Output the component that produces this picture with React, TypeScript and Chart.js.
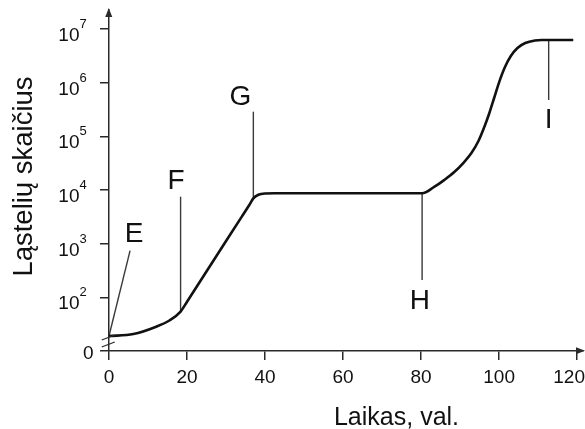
import React, { useEffect, useRef } from "react";
import { Chart, registerables } from "chart.js";

Chart.register(...registerables);

// ---- data ----
const hours = [0, 6.25, 12.1, 15.5, 18.35, 20, 27, 34, 36, 37, 38.3, 40, 42.5, 80.26, 83.35, 85.9, 88.5, 90.8, 92.9, 94.7, 96.2, 97.5, 98.8, 100.1, 101.5, 103.0, 104.7, 106.7, 109.2, 110.9, 119.0];
const cellCounts = [19, 20.7, 28.4, 37, 54, 82.8, 512, 3160, 5320, 7000, 8150, 8610, 8700, 8700, 11400, 15300, 21600, 31800, 48900, 81800, 149000, 272000, 541000, 1070000, 1960000, 3140000, 4430000, 5480000, 6110000, 6240000, 6240000];

const xTickValues = [0, 20, 40, 60, 80, 100, 120];
const xTickLabels = ["0", "20", "40", "60", "80", "100", "120"];
const yTickValues = [10, 100, 1000, 10000, 100000, 1000000, 10000000];
const yTickBase = ["0", "10", "10", "10", "10", "10", "10"];
const yTickExponent = ["", "2", "3", "4", "5", "6", "7"];

const markerNames = ["E", "F", "G", "H", "I"];
const markerFromX = [0, 18.35, 37.0, 80.26, 112.7];
const markerFromY = [19, 54, 7000, 8700, 6240000];
const markerToX = [5.4, 18.35, 37.0, 80.26, 112.7];
const markerToY = [740, 7500, 288000, 210, 475000];
const markerLabelX = [6.4, 17.2, 33.7, 79.7, 112.7];
const markerLabelY = [1650, 16000, 589000, 93, 219000];

const xTitle = "Laikas, val.";
const yTitle = "Ląstelių skaičius";

const X_MAX = 121.5;
const Y_MIN = 10;
const Y_MAX = 2.26e7;

const FONT = "'Liberation Sans', Arial, Helvetica, sans-serif";
const INK = "#111";
const AXIS = "#2a2a2a";

const decorPlugin = {
  id: "decor",
  afterDraw(chart: any) {
    const ctx = chart.ctx as CanvasRenderingContext2D;
    const xs = chart.scales.x;
    const ys = chart.scales.y;
    const { left, right, top, bottom } = chart.chartArea;
    const W = chart.width;
    const ax = left - 0.25;
    const ay = bottom - 0.25;
    ctx.save();
    ctx.fillStyle = AXIS;
    // y-axis arrow
    ctx.beginPath();
    ctx.moveTo(ax, top - 2);
    ctx.lineTo(ax - 3.5, top + 7);
    ctx.lineTo(ax + 3.5, top + 7);
    ctx.closePath();
    ctx.fill();
    // x-axis arrow
    ctx.beginPath();
    ctx.moveTo(right + 2, ay);
    ctx.lineTo(right - 7, ay - 3.5);
    ctx.lineTo(right - 7, ay + 3.5);
    ctx.closePath();
    ctx.fill();
    // axis break marks
    ctx.strokeStyle = AXIS;
    ctx.lineWidth = 1.3;
    for (const dy of [-11, -4]) {
      ctx.beginPath();
      ctx.moveTo(ax - 7, bottom + dy);
      ctx.lineTo(ax + 6, bottom + dy - 5);
      ctx.stroke();
    }
    ctx.fillStyle = INK;
    ctx.textBaseline = "alphabetic";
    // x tick labels
    ctx.font = `19px ${FONT}`;
    ctx.textAlign = "center";
    xTickValues.forEach((v, i) => {
      let px = xs.getPixelForValue(v);
      const w = ctx.measureText(xTickLabels[i]).width;
      if (px + w / 2 > W) px = W - w / 2;
      ctx.fillText(xTickLabels[i], px, bottom + 31.5);
    });
    // y tick labels
    yTickValues.forEach((v, i) => {
      const py = ys.getPixelForValue(v);
      ctx.font = `19px ${FONT}`;
      ctx.textAlign = "right";
      if (!yTickExponent[i]) {
        ctx.fillText(yTickBase[i], 93.5, py + 8);
        return;
      }
      ctx.fillText(yTickBase[i], 79.5, py + 12);
      ctx.font = `13px ${FONT}`;
      ctx.textAlign = "left";
      ctx.fillText(yTickExponent[i], 79.5, py - 1);
    });
    // axis titles
    ctx.font = `25px ${FONT}`;
    ctx.textAlign = "center";
    ctx.fillText(xTitle, 396.5, 424.5);
    ctx.save();
    ctx.font = `27.5px ${FONT}`;
    ctx.translate(32, 176.5);
    ctx.rotate(-Math.PI / 2);
    ctx.fillText(yTitle, 0, 0);
    ctx.restore();
    // marker letters
    ctx.font = `28px ${FONT}`;
    ctx.textAlign = "center";
    markerNames.forEach((n, i) => {
      const px = xs.getPixelForValue(markerLabelX[i]);
      const py = ys.getPixelForValue(markerLabelY[i]);
      ctx.fillText(n, px, py + 10);
    });
    ctx.restore();
  },
};

export default function App() {
  const ref = useRef<HTMLCanvasElement>(null);
  useEffect(() => {
    document.body.style.margin = "0";
    const canvas = ref.current!;
    const curve = hours.map((h, i) => ({ x: h, y: cellCounts[i] }));
    const markerSets = markerNames.map((n, i) => ({
      label: n,
      data: [
        { x: markerFromX[i], y: markerFromY[i] },
        { x: markerToX[i], y: markerToY[i] },
      ],
      borderColor: "#3a3a3a",
      borderWidth: 1.4,
      pointRadius: 0,
      tension: 0,
      order: 2,
    }));
    const chart = new Chart(canvas, {
      type: "line",
      data: {
        datasets: [
          {
            label: "curve",
            data: curve,
            borderColor: INK,
            borderWidth: 2.6,
            pointRadius: 0,
            cubicInterpolationMode: "monotone",
            order: 1,
          } as any,
          ...markerSets,
        ],
      },
      options: {
        responsive: false,
        animation: false,
        devicePixelRatio: 1,
        layout: { padding: { top: 10, right: 2, left: 0, bottom: 0 } },
        plugins: {
          legend: { display: false },
          tooltip: { enabled: false },
          title: { display: false },
        },
        scales: {
          x: {
            type: "linear",
            min: 0,
            max: X_MAX,
            afterBuildTicks: (s: any) => {
              s.ticks = xTickValues.map((v) => ({ value: v }));
            },
            afterFit: (s: any) => {
              s.height = 78;
              s.paddingLeft = 0;
              s.paddingRight = 0;
            },
            grid: {
              display: true,
              drawOnChartArea: false,
              drawTicks: true,
              tickLength: 9,
              color: AXIS,
              lineWidth: 1.5,
            },
            border: { display: true, color: AXIS, width: 1.5 },
            ticks: { display: false },
          },
          y: {
            type: "logarithmic",
            min: Y_MIN,
            max: Y_MAX,
            afterBuildTicks: (s: any) => {
              s.ticks = yTickValues.map((v) => ({ value: v }));
            },
            afterFit: (s: any) => {
              s.width = 109;
              s.paddingTop = 0;
              s.paddingBottom = 0;
            },
            grid: {
              display: true,
              drawOnChartArea: false,
              drawTicks: true,
              tickLength: 9,
              color: AXIS,
              lineWidth: 1.5,
            },
            border: { display: true, color: AXIS, width: 1.5 },
            ticks: { display: false },
          },
        },
      },
      plugins: [decorPlugin],
    } as any);
    return () => chart.destroy();
  }, []);
  return (
    <canvas
      ref={ref}
      width={585}
      height={429}
      style={{ position: "fixed", left: 0, top: 0, width: 585, height: 429 }}
    />
  );
}
